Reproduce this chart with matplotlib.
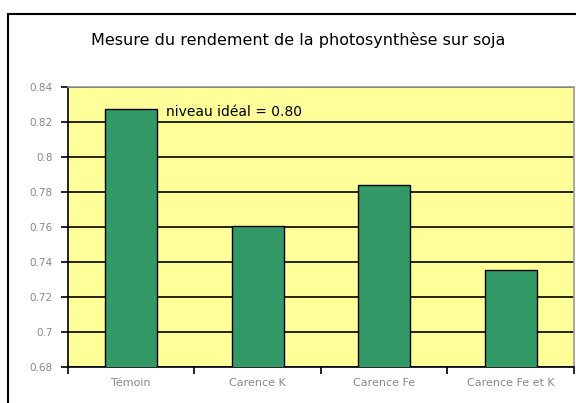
import matplotlib.pyplot as plt
import matplotlib.patches as mpatches
import numpy as np

categories = ['Témoin', 'Carence K', 'Carence Fe', 'Carence Fe et K']
rendement = [0.8276, 0.761, 0.7842, 0.7357]
yticks = [0.68, 0.70, 0.72, 0.74, 0.76, 0.78, 0.80, 0.82, 0.84]
ytick_labels = ['0.68', '0.7', '0.72', '0.74', '0.76', '0.78', '0.8', '0.82', '0.84']

plt.rcParams['font.family'] = ['DejaVu Sans']

fig = plt.figure(figsize=(5.76, 4.03), dpi=100)
ax = fig.add_axes([0.118, 0.0886, 0.8785, 0.6948])

# cadre exterieur (type Excel)
fig.patches.append(mpatches.Rectangle((0.0145, -0.1), 1.2, 0.1 + 0.9645,
                                      transform=fig.transFigure, fill=False,
                                      edgecolor='black', linewidth=1.5))

x = np.arange(len(categories))
ax.set_facecolor('#FFFF99')
ax.set_axisbelow(True)
ax.yaxis.grid(True, color='black', linewidth=1.2)
ax.bar(x, rendement, width=0.41, color='#339966', edgecolor='black', linewidth=1.0, zorder=3)

ax.set_xlim(-0.5, len(categories) - 0.5)
ax.set_ylim(0.68, 0.84)
ax.set_yticks(yticks)
ax.set_yticklabels(ytick_labels)
ax.set_xticks(x)
ax.set_xticklabels(categories)
ax.set_xticks(np.arange(-0.5, len(categories)), minor=True)
ax.tick_params(axis='x', which='major', length=0, pad=8, labelsize=8, labelcolor='#888888')
ax.tick_params(axis='x', which='minor', length=5, width=1.2, direction='out', color='black')
ax.tick_params(axis='y', length=5, width=1.2, pad=6, labelsize=7.5, labelcolor='#888888')

for s in ['top', 'right']:
    ax.spines[s].set_color('#999999')
    ax.spines[s].set_linewidth(1.2)
for s in ['left', 'bottom']:
    ax.spines[s].set_color('black')
    ax.spines[s].set_linewidth(1.2)

ax.text(0.194, 0.91, 'niveau idéal = 0.80', transform=ax.transAxes,
        fontsize=10, ha='left', va='center', color='black')

fig.text(0.517, 0.9, 'Mesure du rendement de la photosynthèse sur soja',
         ha='center', va='center', fontsize=11.5)

fig.savefig('out.png', dpi=100)
